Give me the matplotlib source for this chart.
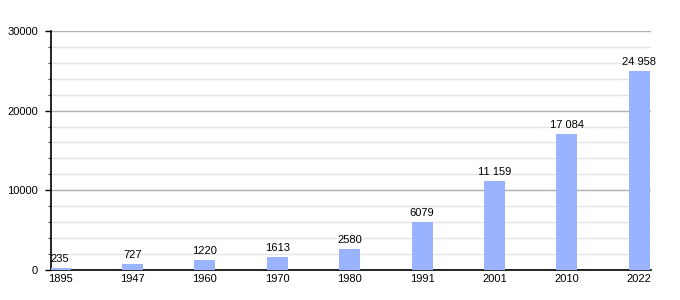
import matplotlib
matplotlib.use("Agg")
import matplotlib.pyplot as plt
from matplotlib.ticker import MultipleLocator

years = ["1895", "1947", "1960", "1970", "1980", "1991", "2001", "2010", "2022"]
population = [235, 727, 1220, 1613, 2580, 6079, 11159, 17084, 24958]

plt.rcParams['font.family'] = ['Liberation Sans', 'DejaVu Sans']

def fmt(v):
    # space as thousands separator only for 5+ digit numbers
    return "{:,}".format(v).replace(",", " ") if v >= 10000 else str(v)

fig = plt.figure(figsize=(6.8, 3.0), dpi=100)
ax = fig.add_axes([0.075, 0.1, 0.882, 0.797])

x = range(len(years))
bars = ax.bar(x, population, width=0.29, color="#99b3ff", zorder=3)
for xi, v in zip(x, population):
    ax.text(xi, v + 500, fmt(v), ha="center", va="bottom", fontsize=8, zorder=4)

ax.set_xlim(-0.125, 8.16)
ax.set_ylim(0, 30000)
ax.set_xticks(list(x))
ax.set_xticklabels(years, fontsize=8)
ax.tick_params(axis="x", length=0, pad=3)
ax.yaxis.set_major_locator(MultipleLocator(10000))
ax.yaxis.set_minor_locator(MultipleLocator(2000))
ax.tick_params(axis="y", which="major", length=4.3, width=1, labelsize=8, pad=5)
ax.tick_params(axis="y", which="minor", length=2.2, width=0.8, color="#444444")
ax.grid(axis="y", which="major", color="#b0b0b0", linewidth=1, zorder=0)
ax.grid(axis="y", which="minor", color="#e5e5e5", linewidth=1, zorder=0)

for s in ["top", "right"]:
    ax.spines[s].set_visible(False)
ax.spines["left"].set_linewidth(1.2)
ax.spines["bottom"].set_linewidth(1.2)

fig.savefig("out.png", dpi=100)
